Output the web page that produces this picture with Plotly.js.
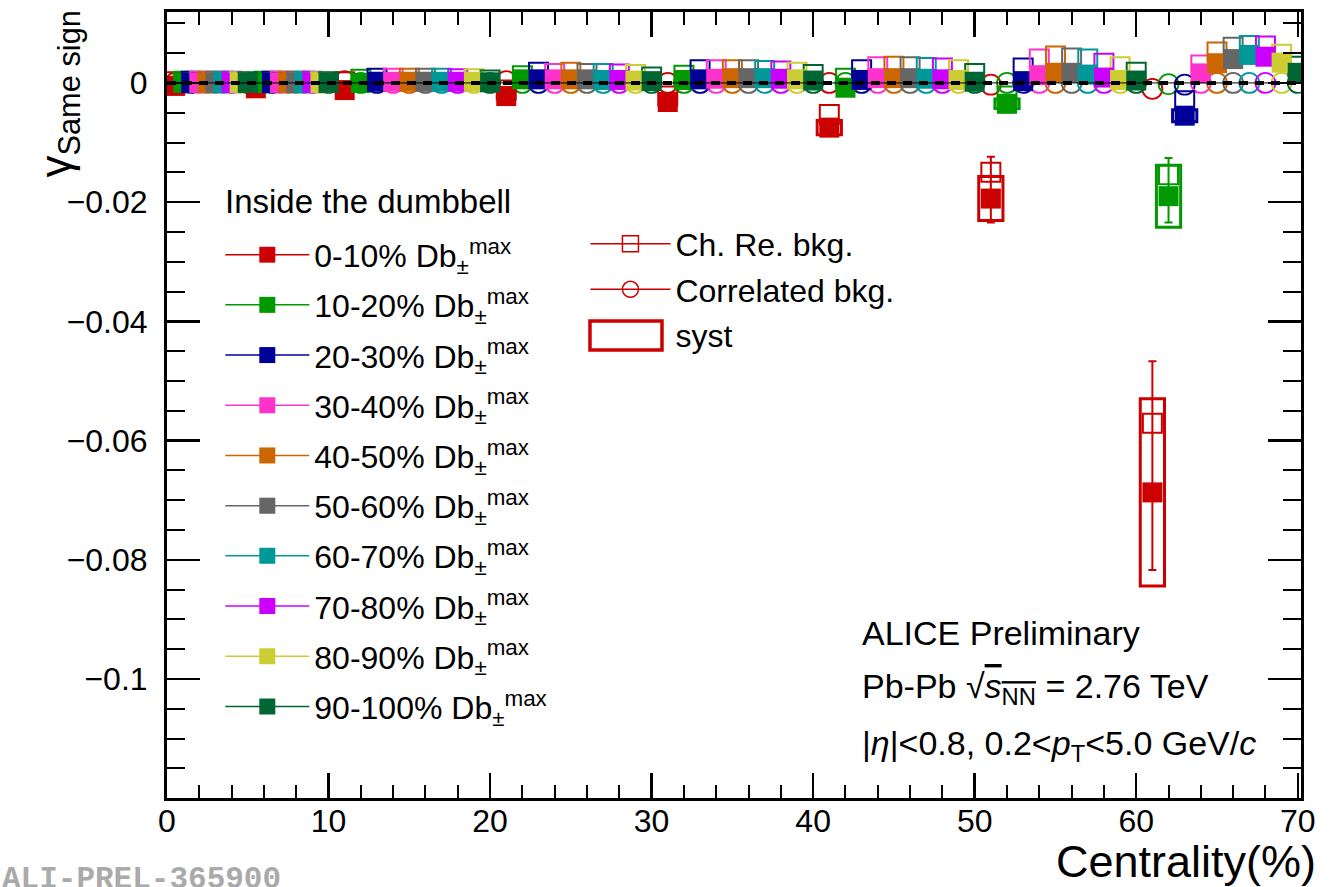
<!DOCTYPE html>
<html><head><meta charset="utf-8">
<script src="https://cdn.plot.ly/plotly-3.0.1.min.js"></script>
<style>body{margin:0;background:#fff}#chart{width:1339px;height:887px}</style>
</head><body><div id="chart"></div>
<script>
// Centrality bins (x categories)
const centralityLow  = [0, 5, 10, 20, 30, 40, 50, 60];
const centralityHigh = [5, 10, 20, 30, 40, 50, 60, 70];
const dbClassLabels = ['0-10%', '10-20%', '20-30%', '30-40%', '40-50%', '50-60%', '60-70%', '70-80%', '80-90%', '90-100%'];

// gamma same sign, inside the dumbbell (solid squares)
const sameSign0_10   = [-0.0005, -0.0009, -0.0012, -0.0022, -0.0032, -0.0075, -0.0194, -0.0687];
const sameSign10_20  = [0.0000, 0.0000, 0.0000, 0.0006, 0.0005, -0.0008, -0.0035, -0.0190];
const sameSign20_30  = [0.0000, 0.0000, 0.0002, 0.0006, 0.0006, 0.0005, 0.0003, -0.0055];
const sameSign30_40  = [0.0000, 0.0000, 0.0002, 0.0006, 0.0007, 0.0008, 0.0013, 0.0016];
const sameSign40_50  = [0.0000, 0.0000, 0.0002, 0.0006, 0.0008, 0.0008, 0.0017, 0.0033];
const sameSign50_60  = [0.0000, 0.0000, 0.0002, 0.0006, 0.0008, 0.0008, 0.0017, 0.0040];
const sameSign60_70  = [0.0000, 0.0000, 0.0002, 0.0005, 0.0008, 0.0007, 0.0014, 0.0047];
const sameSign70_80  = [0.0000, 0.0000, 0.0002, 0.0005, 0.0007, 0.0006, 0.0009, 0.0044];
const sameSign80_90  = [0.0000, 0.0000, 0.0002, 0.0004, 0.0006, 0.0005, 0.0005, 0.0034];
const sameSign90_100 = [0.0000, 0.0000, 0.0001, 0.0003, 0.0004, 0.0002, 0.0004, 0.0017];

// statistical errors (up / down)
const errUp0_10    = [0.0003, 0.0003, 0.0004, 0.0005, 0.0006, 0.0010, 0.0070, 0.0220];
const errDown0_10  = [0.0003, 0.0003, 0.0004, 0.0005, 0.0006, 0.0010, 0.0040, 0.0130];
const errUp10_20   = [0.0003, 0.0003, 0.0003, 0.0004, 0.0005, 0.0006, 0.0008, 0.0064];
const errDown10_20 = [0.0003, 0.0003, 0.0003, 0.0004, 0.0005, 0.0006, 0.0008, 0.0044];
const errSmall     = [0.0002, 0.0002, 0.0002, 0.0003, 0.0003, 0.0004, 0.0005, 0.0008];

// systematic uncertainties (half height of box), null = not visible
const syst0_10  = [null, null, null, null, null, 0.0012, 0.0037, 0.0157];
const syst10_20 = [null, null, null, null, null, null, 0.0008, 0.0052];
const syst20_30 = [null, null, null, null, null, null, null, 0.0010];

// Charge reshuffled background (open squares)
const chRe0_10   = [0.0002, 0.0000, 0.0002, -0.0012, -0.0022, -0.0053, -0.0150, -0.0571];
const chRe10_20  = [0.0003, 0.0003, 0.0006, 0.0012, 0.0013, 0.0008, -0.0022, -0.0154];
const chRe20_30  = [0.0003, 0.0003, 0.0008, 0.0018, 0.0022, 0.0022, 0.0025, -0.0030];
const chRe30_40  = [0.0003, 0.0003, 0.0008, 0.0016, 0.0022, 0.0027, 0.0040, 0.0030];
const chRe40_50  = [0.0003, 0.0003, 0.0008, 0.0018, 0.0022, 0.0028, 0.0045, 0.0052];
const chRe50_60  = [0.0003, 0.0003, 0.0008, 0.0016, 0.0022, 0.0027, 0.0042, 0.0060];
const chRe60_70  = [0.0003, 0.0003, 0.0008, 0.0016, 0.0021, 0.0026, 0.0040, 0.0063];
const chRe70_80  = [0.0003, 0.0003, 0.0007, 0.0015, 0.0020, 0.0025, 0.0033, 0.0062];
const chRe80_90  = [0.0002, 0.0002, 0.0007, 0.0014, 0.0018, 0.0022, 0.0027, 0.0048];
const chRe90_100 = [0.0002, 0.0002, 0.0005, 0.0010, 0.0014, 0.0016, 0.0018, 0.0028];

// Correlated background (open circles)
const corr0_10   = [0.0000, 0.0000, 0.0003, 0.0003, 0.0000, 0.0000, -0.0003, -0.0010];
const corr10_20  = [0.0000, 0.0000, 0.0000, 0.0000, 0.0000, 0.0000, 0.0000, -0.0002];
const corr20_30  = [0.0000, 0.0000, 0.0000, 0.0000, 0.0000, 0.0000, 0.0000, -0.0003];
const corr30_40  = [0.0000, 0.0000, 0.0000, 0.0000, 0.0000, 0.0000, 0.0000, 0.0000];
const corr40_50  = [0.0000, 0.0000, 0.0000, 0.0000, 0.0000, 0.0000, 0.0000, 0.0000];
const corr50_60  = [0.0000, 0.0000, 0.0000, 0.0000, 0.0000, 0.0000, 0.0000, 0.0000];
const corr60_70  = [0.0000, 0.0000, 0.0000, 0.0000, 0.0000, 0.0000, 0.0000, 0.0000];
const corr70_80  = [0.0000, 0.0000, 0.0000, 0.0000, 0.0000, 0.0000, 0.0000, 0.0000];
const corr80_90  = [0.0000, 0.0000, 0.0000, 0.0000, 0.0000, 0.0000, 0.0000, 0.0000];
const corr90_100 = [0.0000, 0.0000, 0.0000, 0.0000, 0.0000, 0.0000, 0.0000, 0.0000];

const sameSignSeries = [sameSign0_10, sameSign10_20, sameSign20_30, sameSign30_40, sameSign40_50, sameSign50_60, sameSign60_70, sameSign70_80, sameSign80_90, sameSign90_100];
const errUpSeries = [errUp0_10, errUp10_20, errSmall, errSmall, errSmall, errSmall, errSmall, errSmall, errSmall, errSmall];
const errDownSeries = [errDown0_10, errDown10_20, errSmall, errSmall, errSmall, errSmall, errSmall, errSmall, errSmall, errSmall];
const systSeries = [syst0_10, syst10_20, syst20_30, null, null, null, null, null, null, null];
const chReSeries = [chRe0_10, chRe10_20, chRe20_30, chRe30_40, chRe40_50, chRe50_60, chRe60_70, chRe70_80, chRe80_90, chRe90_100];
const corrSeries = [corr0_10, corr10_20, corr20_30, corr30_40, corr40_50, corr50_60, corr60_70, corr70_80, corr80_90, corr90_100];

const colors = ['#cc0000', '#009900', '#000099', '#ff33cc', '#cc6600', '#666666', '#009999', '#cc00ff', '#cccc33', '#006633'];
const FONT = 'Liberation Sans, Arial, Helvetica, sans-serif';

function xPositions(k) {
  return centralityLow.map((lo, i) => lo + (k + 1) * (centralityHigh[i] - lo) / 10);
}

const traces = [];
// correlated background circles
corrSeries.forEach((ys, k) => {
  traces.push({type: 'scatter', mode: 'markers', x: xPositions(k), y: ys, showlegend: false, hoverinfo: 'skip',
    marker: {symbol: 'circle-open', size: 20, color: colors[k], line: {width: 1.8, color: colors[k]}}});
});
// charge reshuffled open squares
chReSeries.forEach((ys, k) => {
  traces.push({type: 'scatter', mode: 'markers', x: xPositions(k), y: ys, showlegend: false, hoverinfo: 'skip',
    marker: {symbol: 'square-open', size: 19, color: colors[k], line: {width: 2, color: colors[k]}}});
});
// measured points
sameSignSeries.forEach((ys, k) => {
  traces.push({type: 'scatter', mode: 'markers', x: xPositions(k), y: ys, showlegend: false,
    marker: {symbol: 'square', size: 20, color: colors[k], line: {width: 0}},
    error_y: {type: 'data', symmetric: false, array: errUpSeries[k], arrayminus: errDownSeries[k], color: colors[k], thickness: 2, width: 4}});
});
// legend entries
dbClassLabels.forEach((lab, k) => {
  traces.push({type: 'scatter', mode: 'lines+markers', x: [null], y: [null], name: lab + ' Db<sub>±</sub><sup>max</sup>',
    legend: 'legend', legendgroup: 'g' + k,
    line: {color: colors[k], width: 1.5}, marker: {symbol: 'square', size: 20, color: colors[k]}});
});
traces.push({type: 'scatter', mode: 'lines+markers', x: [null], y: [null], name: 'Ch. Re. bkg.', legend: 'legend2', legendgroup: 'a',
  line: {color: colors[0], width: 1.5}, marker: {symbol: 'square-open', size: 20, color: colors[0], line: {width: 1.5, color: colors[0]}}});
traces.push({type: 'scatter', mode: 'lines+markers', x: [null], y: [null], name: 'Correlated bkg.', legend: 'legend2', legendgroup: 'b',
  line: {color: colors[0], width: 1.5}, marker: {symbol: 'circle-open', size: 20, color: colors[0], line: {width: 1.5, color: colors[0]}}});
traces.push({type: 'scatter', mode: 'lines', x: [null], y: [null], name: 'syst', legend: 'legend2', legendgroup: 'c',
  line: {color: 'rgba(0,0,0,0)', width: 0}});

// shapes: zero lines + systematic boxes
const shapes = [
  {type: 'line', xref: 'x', yref: 'y', x0: 0, x1: 70, y0: 0, y1: 0, line: {color: 'black', width: 1}},
  {type: 'line', xref: 'x', yref: 'y', x0: 0, x1: 70, y0: 0, y1: 0, line: {color: 'black', width: 4, dash: '9px,7px'}}
];
systSeries.forEach((sy, k) => {
  if (!sy) return;
  const xs = xPositions(k);
  sy.forEach((s, i) => {
    if (s == null) return;
    const v = sameSignSeries[k][i];
    shapes.push({type: 'rect', xref: 'x', yref: 'y', x0: xs[i] - 0.75, x1: xs[i] + 0.75, y0: v - s, y1: v + s,
      line: {color: colors[k], width: 3}, fillcolor: 'rgba(0,0,0,0)'});
  });
});
// legend symbol for syst (paper coords)
shapes.push({type: 'rect', xref: 'paper', yref: 'paper', x0: 0.373, x1: 0.4365, y0: 0.570, y1: 0.607,
  line: {color: colors[0], width: 3.5}, fillcolor: 'rgba(0,0,0,0)'});

const annotations = [
  {text: 'γ<sub>Same sign</sub>', xref: 'paper', yref: 'paper', x: -0.095, y: 1.006, xanchor: 'center', yanchor: 'top',
   textangle: -90, showarrow: false, font: {family: FONT, size: 44, color: 'black'}},
  {text: 'Centrality(%)', xref: 'paper', yref: 'paper', x: 1.015, y: -0.081, xanchor: 'right', yanchor: 'middle',
   showarrow: false, font: {family: FONT, size: 45, color: 'black'}},
  {text: 'Inside the dumbbell', xref: 'paper', yref: 'paper', x: 0.0494, y: 0.7595, xanchor: 'left', yanchor: 'middle',
   showarrow: false, font: {family: FONT, size: 33, color: 'black'}},
  {text: 'ALICE Preliminary', xref: 'paper', yref: 'paper', x: 0.611, y: 0.21, xanchor: 'left', yanchor: 'middle',
   showarrow: false, font: {family: FONT, size: 34, color: 'black'}},
  {text: 'Pb-Pb √<span style="text-decoration:overline"><i>s</i><sub>NN</sub></span> = 2.76 TeV', xref: 'paper', yref: 'paper', x: 0.611, y: 0.1387, xanchor: 'left', yanchor: 'middle',
   showarrow: false, font: {family: FONT, size: 34, color: 'black'}},
  {text: '|<i>η</i>|&lt;0.8, 0.2&lt;<i>p</i><sub>T</sub>&lt;5.0 GeV/<i>c</i>', xref: 'paper', yref: 'paper', x: 0.611, y: 0.0674, xanchor: 'left', yanchor: 'middle',
   showarrow: false, font: {family: FONT, size: 34, color: 'black'}},
  {text: '<b>ALI-PREL-365900</b>', xref: 'paper', yref: 'paper', x: -0.147, y: -0.104, xanchor: 'left', yanchor: 'middle',
   showarrow: false, font: {family: 'Liberation Mono, Courier New, monospace', size: 31, color: '#aaaaaa'}}
];

const layout = {
  width: 1339, height: 887,
  margin: {l: 167, r: 38, t: 12, b: 89, pad: 0},
  paper_bgcolor: 'white', plot_bgcolor: 'white',
  font: {family: FONT, size: 32, color: 'black'},
  showlegend: true,
  xaxis: {range: [0, 70.2], tick0: 0, dtick: 10, showgrid: false, zeroline: false,
    showline: true, linewidth: 3, linecolor: 'black', mirror: 'ticks',
    ticks: 'inside', ticklen: 25, tickwidth: 2.5, tickcolor: 'black',
    minor: {dtick: 2, ticks: 'inside', ticklen: 13, tickwidth: 2, tickcolor: 'black', showgrid: false},
    tickfont: {family: FONT, size: 32, color: 'black'}, ticklabelstandoff: -7, title: {text: ''}},
  yaxis: {range: [-0.11997, 0.0119], tick0: 0, dtick: 0.02, showgrid: false, zeroline: false,
    showline: true, linewidth: 3, linecolor: 'black', mirror: 'ticks',
    ticks: 'inside', ticklen: 33, tickwidth: 2.5, tickcolor: 'black',
    minor: {dtick: 0.005, ticks: 'inside', ticklen: 18, tickwidth: 2, tickcolor: 'black', showgrid: false},
    tickfont: {family: FONT, size: 32, color: 'black'}, ticklabelstandoff: 10, title: {text: ''}},
  legend: {x: 0.047, y: 0.726, xanchor: 'left', yanchor: 'top', bgcolor: 'rgba(0,0,0,0)',
    font: {family: FONT, size: 32, color: 'black'}, itemwidth: 84, traceorder: 'grouped', tracegroupgap: 5.6},
  legend2: {x: 0.369, y: 0.740, xanchor: 'left', yanchor: 'top', bgcolor: 'rgba(0,0,0,0)',
    font: {family: FONT, size: 32, color: 'black'}, itemwidth: 80, traceorder: 'grouped', tracegroupgap: 1},
  shapes: shapes,
  annotations: annotations
};

Plotly.newPlot('chart', traces, layout, {staticPlot: true, displayModeBar: false});
</script>
</body></html>
